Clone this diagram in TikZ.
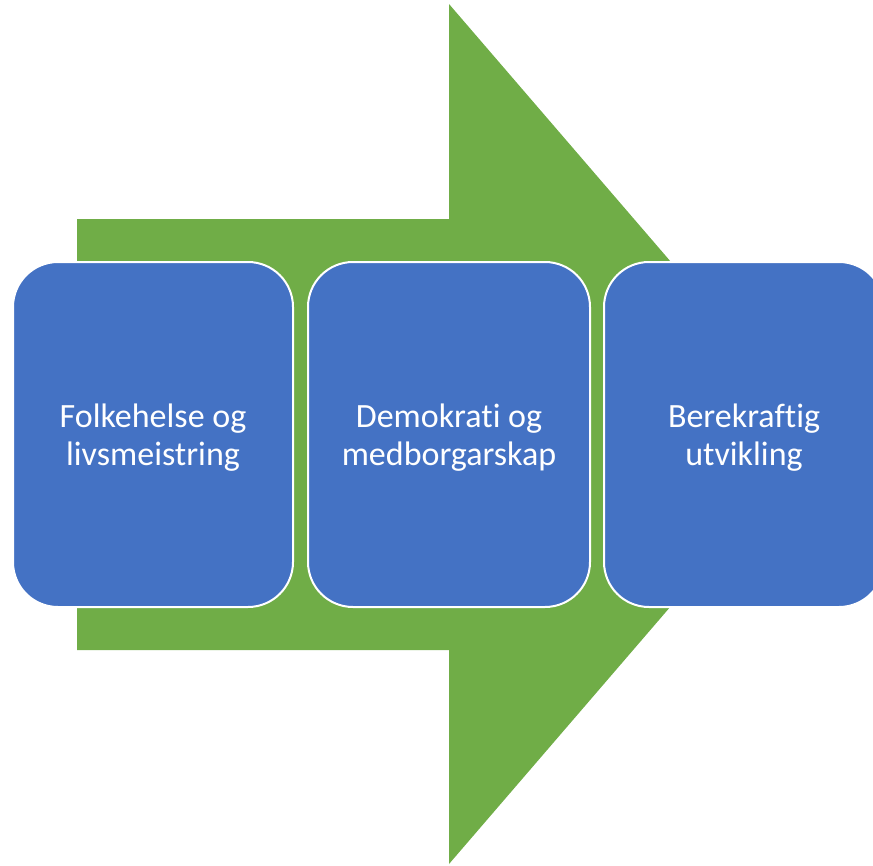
\documentclass[tikz,border=0pt]{standalone}
\usepackage{fontspec}
\setmainfont{Carlito}[Ligatures=NoCommon]
\usepackage{tikz}
\usetikzlibrary{positioning,shapes,calc}

\definecolor{arrowgreen}{HTML}{70AD47}
\definecolor{boxblue}{HTML}{4472C4}

\tikzset{
  themebox/.style={draw=white,line width=2pt,fill=boxblue,rounded corners=45pt,
    minimum width=280pt,minimum height=345pt},
  boxtext/.style={text=white,align=center,font=\fontsize{34}{38}\selectfont}
}

\begin{document}
\begin{tikzpicture}[x=1pt,y=-1pt]
  \useasboundingbox (0,0) rectangle (873,865);
  \clip (0,0) rectangle (873,865);
  % Define the big arrow in the background
  \fill[arrowgreen] (77,219) -- (449,219) -- (449,4) -- (819,434) -- (449,864) -- (449,650) -- (77,650) -- cycle;
  % Define the three boxes
  \path (153,434.5) node[themebox] (B1) {};
  \path (449,434.5) node[themebox,minimum width=282pt] (B2) {};
  \path (744,434.5) node[themebox] (B3) {};
  % Put the texts in the boxes
  \node[boxtext] (T1) at ([yshift=-3pt]B1.center) {Folkehelse og\\livsmeistring};
  \node[boxtext] (T2) at ([yshift=-3pt]B2.center) {Demokrati og\\medborgarskap};
  \node[boxtext] (T3) at ([yshift=-3pt]B3.center) {Berekraftig\\utvikling};
\end{tikzpicture}
\end{document}
